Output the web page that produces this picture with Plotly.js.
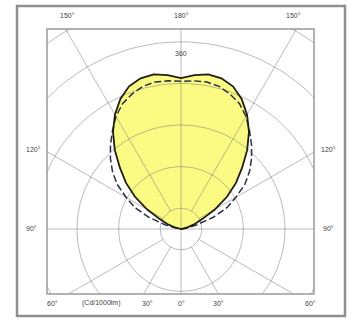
<!DOCTYPE html>
<html><head><meta charset="utf-8">
<script src="https://cdn.plot.ly/plotly-3.0.1.min.js"></script>
<style>html,body{margin:0;padding:0;background:#fff}</style>
</head><body><div id="chart" style="width:354px;height:320px"></div>
<script>
// gamma angles (deg from nadir) and intensities (cd/1000lm)
const gammaDeg   = [90, 95, 100, 105, 110, 115, 120, 125, 130, 135, 140, 145, 150, 155, 160, 165, 170, 175, 180];
const solidC0    = [0, 2, 6, 14, 28, 45, 75, 108, 138, 166, 198, 228, 254, 276, 292, 300, 302, 297, 290];
const dashedC90  = [0, 4, 12, 32, 66, 98, 122, 150, 172, 192, 211, 230, 250, 266, 276, 284, 287, 286, 284];
const ringValues = [40, 120, 200, 280, 360, 440, 520];
const spokeAngles = [30, 60, 120, 150];
const ringLabel = '360';
const unitLabel = '(Cd/1000lm)';
const topLabels = ['150°', '180°', '150°'];
const sideLabels = ['120°', '90°'];
const bottomLabels = ['60°', '30°', '0°', '30°', '60°'];

const rad = d => d * Math.PI / 180;
function halfCurve(vals, sign) {
  return gammaDeg.map((g, i) => [sign * vals[i] * Math.sin(rad(g)), -vals[i] * Math.cos(rad(g))]);
}
function closedCurve(vals) {
  const right = halfCurve(vals, 1);
  const left = halfCurve(vals, -1).reverse();
  const pts = right.concat(left);
  return {x: pts.map(p => p[0]), y: pts.map(p => p[1])};
}
const solid = closedCurve(solidC0);
const dashed = closedCurve(dashedC90);

const traces = [];
traces.push({x: solid.x, y: solid.y, mode: 'lines', fill: 'toself', fillcolor: '#fbfb84',
  line: {width: 0, color: 'rgba(0,0,0,0)'}, hoverinfo: 'skip', showlegend: false});

const gridColor = 'rgba(120,120,120,0.5)';
ringValues.forEach(r => {
  const xs = [], ys = [];
  for (let a = 0; a <= 360; a += 2) { xs.push(r * Math.sin(rad(a))); ys.push(-r * Math.cos(rad(a))); }
  traces.push({x: xs, y: ys, mode: 'lines', line: {color: gridColor, width: 1}, hoverinfo: 'skip', showlegend: false});
});
spokeAngles.forEach(a => {
  [1, -1].forEach(s => {
    traces.push({x: [s * ringValues[0] * Math.sin(rad(a)), s * 900 * Math.sin(rad(a))],
                 y: [-ringValues[0] * Math.cos(rad(a)), -900 * Math.cos(rad(a))],
                 mode: 'lines', line: {color: gridColor, width: 1}, hoverinfo: 'skip', showlegend: false});
  });
});
traces.push({x: [0, 0], y: [-900, 900], mode: 'lines', line: {color: gridColor, width: 1}, hoverinfo: 'skip', showlegend: false});
traces.push({x: [-900, 900], y: [0, 0], mode: 'lines', line: {color: gridColor, width: 1}, hoverinfo: 'skip', showlegend: false});

traces.push({x: dashed.x, y: dashed.y, mode: 'lines', line: {color: '#2c2f45', width: 1.5, dash: '7px,3px'}, hoverinfo: 'skip', showlegend: false});
traces.push({x: solid.x, y: solid.y, mode: 'lines', line: {color: '#1e1e10', width: 1.8}, hoverinfo: 'skip', showlegend: false});

// geometry
const L = 47, R = 314, T = 29, B = 294, CX = 181, CY = 229, S = 0.52;
const px = x => (x - L) / (R - L);
const py = y => (B - y) / (B - T);
const FONT = {family: 'Liberation Sans, Arial', size: 7, color: '#444'};
const lab = (text, x, y) => ({text, xref: 'paper', yref: 'paper', x: px(x), y: py(y), showarrow: false,
  xanchor: 'center', yanchor: 'middle', font: FONT});

const annotations = [
  lab(topLabels[0], 67, 15), lab(topLabels[1], 181, 15), lab(topLabels[2], 293, 15),
  lab(sideLabels[0], 33, 149), lab(sideLabels[0], 328, 149),
  lab(sideLabels[1], 31, 228), lab(sideLabels[1], 328, 228),
  lab(bottomLabels[0], 52, 303), lab(unitLabel, 101, 303), lab(bottomLabels[1], 147, 303),
  lab(bottomLabels[2], 181, 303), lab(bottomLabels[3], 218, 303), lab(bottomLabels[4], 310, 303),
  {text: ringLabel, xref: 'x', yref: 'y', x: 0, y: 338, showarrow: false, xanchor: 'center', yanchor: 'middle', font: FONT}
];

const layout = {
  width: 354, height: 320,
  margin: {l: L, r: 354 - R, t: T, b: 320 - B, pad: 0},
  paper_bgcolor: '#fff', plot_bgcolor: '#fff',
  xaxis: {range: [(L - CX) / S, (R - CX) / S], showgrid: false, zeroline: false, showticklabels: false, ticks: '', showline: false, fixedrange: true},
  yaxis: {range: [(CY - B) / S, (CY - T) / S], showgrid: false, zeroline: false, showticklabels: false, ticks: '', showline: false, fixedrange: true},
  showlegend: false,
  annotations,
  shapes: [
    {type: 'rect', xref: 'paper', yref: 'paper', x0: px(L), x1: px(R), y0: py(B), y1: py(T), line: {color: '#9a9a9a', width: 1.5}},
    {type: 'rect', xref: 'paper', yref: 'paper', x0: px(17), x1: px(345), y0: py(316), y1: py(6), line: {color: '#8f8f8f', width: 2.5}}
  ]
};
Plotly.newPlot('chart', traces, layout, {displayModeBar: false, staticPlot: true});
</script></body></html>
